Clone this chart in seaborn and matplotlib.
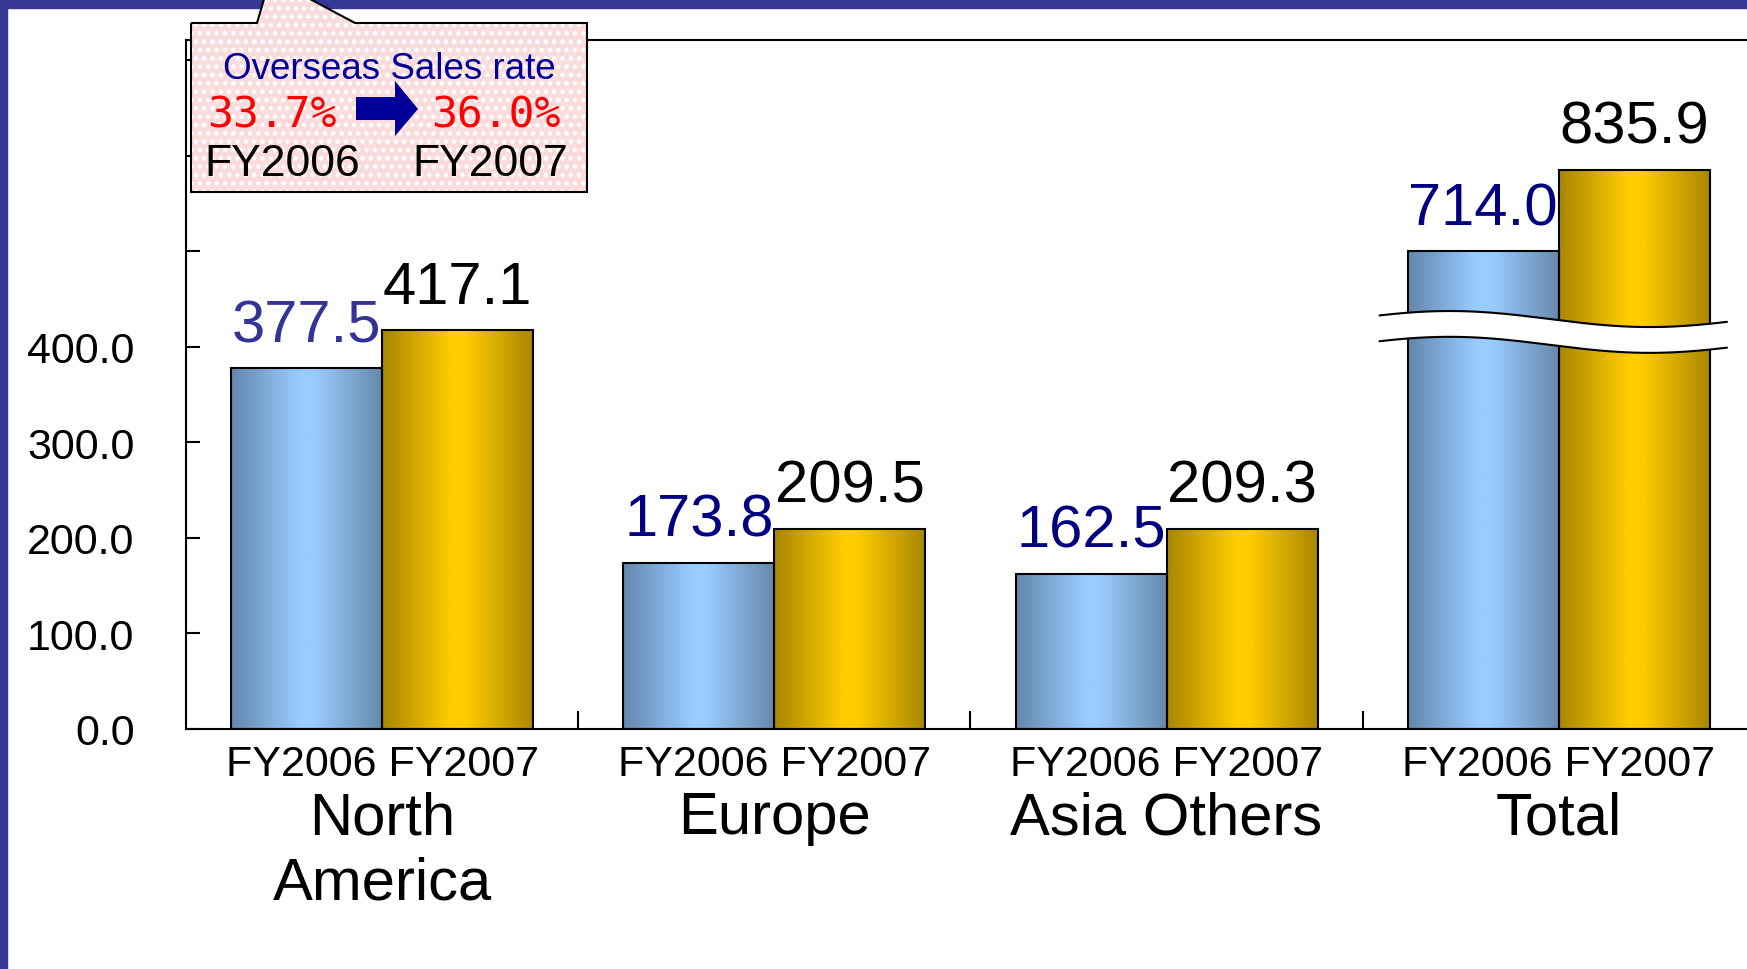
import matplotlib
matplotlib.use('Agg')
import matplotlib.pyplot as plt
from matplotlib import font_manager
from matplotlib.colors import LinearSegmentedColormap, to_rgba
from matplotlib.patches import Polygon, Rectangle
import numpy as np
import pandas as pd
import seaborn as sns

# data (billion yen)
regions = ['North\nAmerica', 'Europe', 'Asia Others', 'Total']
years = ['FY2006', 'FY2007']
fy2006 = [377.5, 173.8, 162.5, 714.0]
fy2007 = [417.1, 209.5, 209.3, 835.9]
label_colors_2006 = ['#333399', '#000080', '#000080', '#000080']
# Total is drawn on a compressed scale (broken bars)
shrink = [1.0, 1.0, 1.0, 0.7]
rate_title = 'Overseas Sales rate'
rate_2006 = '33.7%'
rate_2007 = '36.0%'
yticks = [0, 100, 200, 300, 400, 500, 600, 700]
ytick_labels = ['0.0', '100.0', '200.0', '300.0', '400.0', '', '', '']

BLUE = '#8fb8e0'
GOLD = '#e8bb00'

rows = []
for i, r in enumerate(regions):
    rows.append({'region': r, 'year': years[0], 'value': fy2006[i], 'shown': fy2006[i] * shrink[i]})
    rows.append({'region': r, 'year': years[1], 'value': fy2007[i], 'shown': fy2007[i] * shrink[i]})
df = pd.DataFrame(rows)

sns.set_style('white')
plt.rcParams['font.family'] = ['Liberation Sans', 'DejaVu Sans']
plt.rcParams['text.color'] = 'black'
plt.rcParams['xtick.color'] = 'black'
plt.rcParams['ytick.color'] = 'black'
names = {f.name for f in font_manager.fontManager.ttflist}
tick_family = ['Liberation Sans Narrow'] if 'Liberation Sans Narrow' in names else ['Liberation Sans']

W, H = 1747, 970
fig = plt.figure(figsize=(W / 100, H / 100), dpi=100)


def P(x, y):
    # pixel position (from top-left) -> figure fraction
    return (x / W, 1 - y / H)


ax = fig.add_axes([186 / W, 1 - 730 / H, 1 - 186 / W, (730 - 41) / H])
sns.barplot(data=df, x='region', y='shown', hue='year', order=regions, hue_order=years,
            palette=[BLUE, GOLD], width=0.77, gap=0, edgecolor='black', linewidth=1.5,
            saturation=1, legend=False, ax=ax)

# cylinder-like horizontal gradients on the bars
cmaps = {
    'blue': LinearSegmentedColormap.from_list('b', [(0, '#6386ad'), (0.45, '#99ccff'), (0.55, '#99ccff'), (1, '#6688aa')]),
    'gold': LinearSegmentedColormap.from_list('g', [(0, '#a88600'), (0.45, '#ffcc00'), (0.55, '#ffcc00'), (1, '#a88600')]),
}
grad = np.linspace(0, 1, 256).reshape(1, -1)
for p in list(ax.patches):
    fc = p.get_facecolor()
    key = 'blue' if np.allclose(fc, to_rgba(BLUE), atol=0.02) else 'gold'
    x0, y0, w, h = p.get_x(), p.get_y(), p.get_width(), p.get_height()
    im = ax.imshow(grad, extent=[x0, x0 + w, y0, y0 + h], aspect='auto', cmap=cmaps[key],
                   zorder=p.get_zorder() + 0.1, interpolation='bilinear')
    im.set_clip_path(p)
    p.set_facecolor('none')
    p.set_zorder(p.get_zorder() + 0.2)

ax.set_xlim(-0.5, 3.48)
ax.set_ylim(0, 721)
ax.set_xlabel('')
ax.set_ylabel('')

for s in ['left', 'bottom', 'top']:
    ax.spines[s].set_linewidth(1.5)
    ax.spines[s].set_color('black')
ax.spines['right'].set_visible(False)

ax.set_yticks(yticks)
ax.set_yticklabels(ytick_labels, family=tick_family)
ax.tick_params(axis='y', direction='in', length=10, width=1.5, pad=37, labelsize=31,
               left=True, labelcolor='black')
ax.set_xticks([0.5, 1.5, 2.5])
ax.set_xticklabels([])
ax.tick_params(axis='x', direction='in', length=13, width=1.5, bottom=True)

# value labels, year labels and region names
bw = 0.385
for i, r in enumerate(regions):
    xs = [i - bw / 2, i + bw / 2]
    for j, (val, col) in enumerate([(fy2006[i], label_colors_2006[i]), (fy2007[i], 'black')]):
        ax.annotate(f'{val:.1f}', xy=(xs[j], val * shrink[i]), xytext=(0, 19.5),
                    textcoords='offset points', ha='center', va='baseline',
                    fontsize=43, color=col, zorder=6)
    ax.annotate(' '.join(years), xy=(i, 0), xycoords=('data', 'axes fraction'),
                xytext=(0, -11), textcoords='offset points', ha='center', va='top',
                fontsize=31, color='black', annotation_clip=False)
    ax.annotate(r, xy=(i, 0), xycoords=('data', 'axes fraction'), xytext=(0, -44),
                textcoords='offset points', ha='center', va='top', fontsize=43,
                linespacing=1.25, color='black', annotation_clip=False)

# wavy break across the Total bars
xb = np.linspace(3 - 0.457, 3 + 0.429, 200)
top = 429 + 8.4 * np.cos(2 * np.pi * (xb - 2.722) / 1.02)
bot = top - 27
ax.fill_between(xb, bot, top, color='white', zorder=5, lw=0)
ax.plot(xb, top, color='black', lw=1.5, zorder=5.5)
ax.plot(xb, bot, color='black', lw=1.5, zorder=5.5)

# slide frame
BORDER = '#373795'
fig.add_artist(Rectangle((0, 0), 7 / W, 1, transform=fig.transFigure, color=BORDER, zorder=10))
fig.add_artist(Rectangle(P(0, 9), 1, 9 / H, transform=fig.transFigure, color=BORDER, zorder=10))

# callout box
plt.rcParams['hatch.linewidth'] = 2.0
outline = [P(191, 24), P(257, 24), P(265.5, -5), P(300.6, -5), P(355, 24), P(587, 24), P(587, 193), P(191, 193)]
fig.add_artist(Polygon(outline, closed=True, transform=fig.transFigure, facecolor='#fbdcdc',
                       edgecolor='white', hatch='..', lw=0, zorder=11))
fig.add_artist(Polygon(outline, closed=True, transform=fig.transFigure, facecolor='none',
                       edgecolor='black', lw=1.5, zorder=12))

arrow = [P(356, 98), P(395, 98), P(395, 82), P(418, 110), P(395, 137), P(395, 121), P(356, 121)]
fig.add_artist(Polygon(arrow, closed=True, transform=fig.transFigure, facecolor='#000099',
                       edgecolor='none', zorder=13))

fig.text(*P(389, 79), rate_title, ha='center', va='baseline', fontsize=26.5, color='#000099', zorder=13)
fig.text(*P(272, 128), rate_2006, ha='center', va='baseline', fontsize=31, color='#ff0000',
         family=['DejaVu Sans Mono'], zorder=13)
fig.text(*P(496, 128), rate_2007, ha='center', va='baseline', fontsize=31, color='#ff0000',
         family=['DejaVu Sans Mono'], zorder=13)
fig.text(*P(282, 176), years[0], ha='center', va='baseline', fontsize=32, color='black', zorder=13)
fig.text(*P(490, 176), years[1], ha='center', va='baseline', fontsize=32, color='black', zorder=13)

fig.savefig('out.png', dpi=100)
